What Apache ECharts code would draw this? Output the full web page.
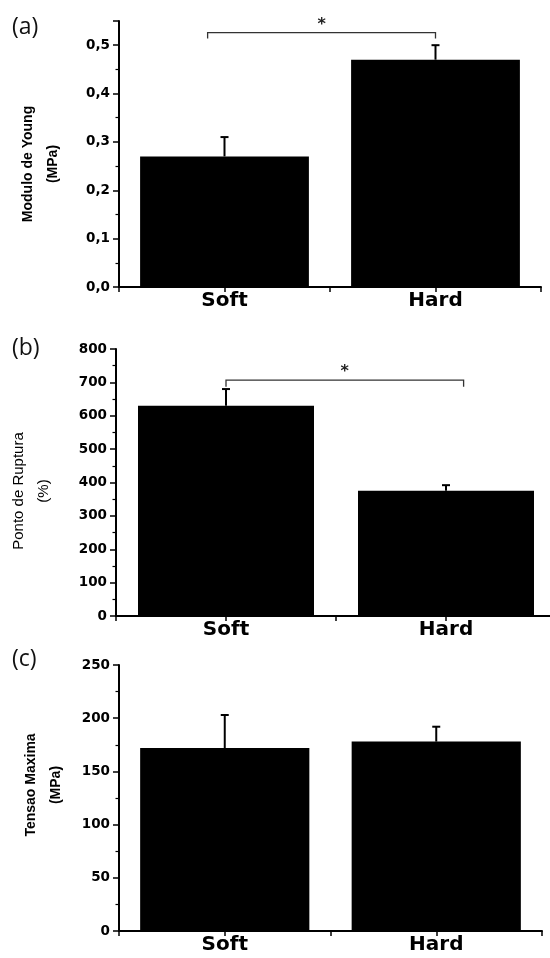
<!DOCTYPE html>
<html>
<head>
<meta charset="utf-8">
<script src="https://cdn.jsdelivr.net/npm/echarts@6/dist/echarts.min.js"></script>
<style>
  html, body { margin: 0; padding: 0; background: #fff; overflow: hidden; width: 550px; height: 958px; }
  /* canvas is a little wider than the page so the middle panel's axis runs off the right edge */
  #chart { width: 560px; height: 958px; }
</style>
</head>
<body>
<div id="chart"></div>
<script>
// Groups and their positions on the x value axis
const categories = ['Soft', 'Hard'];
const categoryPos = [0, 1];

// (a) Young's modulus, MPa
const youngMean = [0.27, 0.47];
const youngErr = [0.04, 0.03];
const youngTickLabels = ['0,0', '0,1', '0,2', '0,3', '0,4', '0,5'];
// significance bracket: [x start, x end, bar level, end level]
const youngSig = [[-0.08, 1.0, 0.526, 0.514]];

// (b) Rupture point, %
const rupturaMean = [630, 375];
const rupturaErr = [50, 17];
const rupturaTickLabels = ['0', '100', '200', '300', '400', '500', '600', '700', '800'];
const rupturaSig = [[0, 1.08, 707, 687]];

// (c) Maximum stress, MPa
const tensaoMean = [172, 178];
const tensaoErr = [31, 14];
const tensaoTickLabels = ['0', '50', '100', '150', '200', '250'];

const panelLetters = ['(a)', '(b)', '(c)'];
const yTitles = ['Modulo de Young\n(MPa)', 'Ponto de Ruptura\n(%)', 'Tensao Maxima\n(MPa)'];

const panels = [
  { grid: { left: 119, top: 21, width: 422, height: 266 }, min: 0, max: 0.55, interval: 0.1,
    mean: youngMean, err: youngErr, ticks: youngTickLabels, sig: youngSig,
    letterY: 27, titleX: 41, titleY: 164, titleWeight: 'bold', titleSize: 14 },
  { grid: { left: 116, top: 349, width: 440, height: 267 }, min: 0, max: 800, interval: 100,
    mean: rupturaMean, err: rupturaErr, ticks: rupturaTickLabels, sig: rupturaSig,
    letterY: 348, titleX: 31, titleY: 491, titleWeight: 'normal', titleSize: 15 },
  { grid: { left: 119, top: 665, width: 423, height: 266 }, min: 0, max: 250, interval: 50,
    mean: tensaoMean, err: tensaoErr, ticks: tensaoTickLabels, sig: [],
    letterY: 659, titleX: 44, titleY: 785, titleWeight: 'bold', titleSize: 14 }
];

const AXIS_FONT = '"DejaVu Sans", sans-serif';

function renderErrorBar(params, api) {
  const x = api.value(0), m = api.value(1), e = api.value(2);
  const base = api.coord([x, m]);
  const top = api.coord([x, m + e]);
  const style = { stroke: '#000', lineWidth: 2 };
  return {
    type: 'group',
    children: [
      { type: 'line', shape: { x1: base[0], y1: base[1], x2: top[0], y2: top[1] }, style },
      { type: 'line', shape: { x1: top[0] - 4, y1: top[1], x2: top[0] + 4, y2: top[1] }, style }
    ]
  };
}

function renderBracket(params, api) {
  const a = api.coord([api.value(0), api.value(2)]);
  const b = api.coord([api.value(1), api.value(2)]);
  const yEnd = api.coord([api.value(0), api.value(3)])[1];
  return {
    type: 'group',
    children: [
      { type: 'polyline',
        shape: { points: [[a[0], yEnd], [a[0], a[1]], [b[0], b[1]], [b[0], yEnd]] },
        style: { stroke: '#333', lineWidth: 1.3, fill: null } },
      { type: 'text', x: (a[0] + b[0]) / 2, y: a[1] - 8,
        style: { text: '*', fill: '#222', font: 'bold 16px "DejaVu Sans"', textAlign: 'center', textVerticalAlign: 'middle' } }
    ]
  };
}

const grid = [], xAxis = [], yAxis = [], series = [], graphic = [];

panels.forEach((p, i) => {
  grid.push(p.grid);
  xAxis.push({
    type: 'value', gridIndex: i, min: -0.5, max: 1.5, interval: 0.5,
    axisLine: { show: true, onZero: false, lineStyle: { color: '#000', width: 2 } },
    axisTick: { show: true, inside: false, length: 5, lineStyle: { color: '#000', width: 1.5 } },
    axisLabel: {
      show: true, margin: 4, color: '#000', fontFamily: AXIS_FONT, fontWeight: 'bold', fontSize: 20,
      formatter: v => {
        const k = categoryPos.indexOf(v);
        return k >= 0 ? categories[k] : '';
      }
    },
    splitLine: { show: false }
  });
  yAxis.push({
    type: 'value', gridIndex: i, min: p.min, max: p.max, interval: p.interval,
    axisLine: { show: true, onZero: false, lineStyle: { color: '#000', width: 2 } },
    axisTick: { show: true, inside: false, length: 6, lineStyle: { color: '#000', width: 1.5 } },
    minorTick: { show: true, splitNumber: 2, length: 3.5, lineStyle: { color: '#000', width: 1.2 } },
    axisLabel: {
      show: true, margin: 9, color: '#000', fontFamily: AXIS_FONT, fontWeight: 'bold', fontSize: 13.5,
      formatter: v => {
        const k = Math.round(v / p.interval);
        if (Math.abs(v / p.interval - k) > 1e-6) return '';
        return p.ticks[k] !== undefined ? p.ticks[k] : '';
      }
    },
    splitLine: { show: false },
    minorSplitLine: { show: false }
  });

  series.push({
    type: 'bar', xAxisIndex: i, yAxisIndex: i, barWidth: '80%', silent: true,
    itemStyle: { color: '#000' },
    data: categoryPos.map((x, j) => [x, p.mean[j]])
  });
  series.push({
    type: 'custom', xAxisIndex: i, yAxisIndex: i, silent: true, clip: false, z: 3,
    renderItem: renderErrorBar,
    data: categoryPos.map((x, j) => [x, p.mean[j], p.err[j]])
  });
  if (p.sig.length) {
    series.push({
      type: 'custom', xAxisIndex: i, yAxisIndex: i, silent: true, clip: false, z: 4,
      renderItem: renderBracket,
      data: p.sig
    });
  }

  graphic.push({
    type: 'text', x: 12, y: p.letterY, silent: true,
    style: { text: panelLetters[i], fill: '#111', font: '23px "Open Sans"', textVerticalAlign: 'middle' }
  });
  graphic.push({
    type: 'text', x: p.titleX, y: p.titleY, rotation: Math.PI / 2, silent: true,
    style: {
      text: yTitles[i], fill: '#000',
      font: p.titleWeight + ' ' + p.titleSize + 'px "Liberation Sans", Arial, sans-serif',
      textAlign: 'center', textVerticalAlign: 'middle', lineHeight: 25
    }
  });
});

const chart = echarts.init(document.getElementById('chart'), null, { renderer: 'canvas' });
chart.setOption({
  animation: false,
  backgroundColor: '#fff',
  grid, xAxis, yAxis, series, graphic
});
</script>
</body>
</html>
